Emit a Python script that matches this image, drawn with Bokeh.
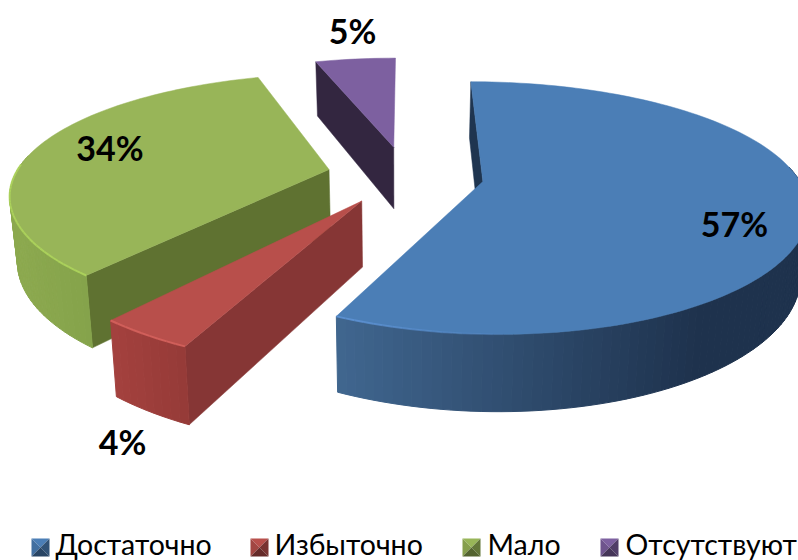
import math
from bokeh.plotting import figure
from bokeh.models import Range1d
from bokeh.core.properties import value
from bokeh.embed import file_html
from bokeh.resources import INLINE

categories = ["Достаточно", "Избыточно", "Мало", "Отсутствуют"]
values = [57, 4, 34, 5]
labels = ["57%", "4%", "34%", "5%"]

top_col = ["#4b7eb6", "#b84f4b", "#98b558", "#7d60a0"]
radial_col = ["#1f3550", "#863635", "#5f7231", "#332640"]
rim_a = ["#40668f", "#a4413e", "#8ca94f", "#5c4a78"]
rim_b = ["#1e324d", "#943a37", "#84a24a", "#5c4a78"]
rim_x = [(337, 700), (110, 190), (18, 93), (316, 394)]
shine = ["#5f95d8", "#d8645f", "#b0d85c", "#9d7cc8"]
label_xy = [(734, 223), (122, 440.5), (109.5, 146.5), (352, 29.5)]
legend_x = [31, 250, 462, 600]
legend_text_x = [55, 274, 487, 625]

CX, CY, A, B, KX, KY, EXPLODE = 405, 174.5, 314, 118, 0.182, 0.2076, 0.25


def proj(u, v):
    return CX + A * u / (1 + KX * v), CY - B * v / (1 + KY * v)


def low(x, y):
    return x + 0.02 * (400 - x), y + 49 + 0.085 * y


def hexmix(a, b, t):
    t = max(0, min(1, t))
    ca = [int(a[i:i + 2], 16) for i in (1, 3, 5)]
    cb = [int(b[i:i + 2], 16) for i in (1, 3, 5)]
    return "#%02x%02x%02x" % tuple(round(p + (q - p) * t) for p, q in zip(ca, cb))


p = figure(width=798, height=560, output_backend="svg", toolbar_location=None,
           x_range=Range1d(0, 798), y_range=Range1d(560, 0),
           min_border=0, outline_line_color=None, border_fill_color="white")
p.axis.visible = False
p.grid.visible = False

starts = []
acc = 0.0
for val in values:
    starts.append(acc)
    acc += val * 3.6

for i in [3, 2, 1, 0]:
    th0 = math.radians(starts[i])
    th1 = math.radians(starts[i] + values[i] * 3.6)
    mid = (th0 + th1) / 2
    ou, ov = EXPLODE * math.sin(mid), EXPLODE * math.cos(mid)
    n = max(4, int(values[i] * 3.6 / 1.5))
    ths = [th0 + (th1 - th0) * j / n for j in range(n + 1)]
    rim = [proj(ou + math.sin(t), ov + math.cos(t)) for t in ths]
    apex = proj(ou, ov)
    q = [apex, rim[0], low(*rim[0]), low(*apex)]
    p.patch([a[0] for a in q], [a[1] for a in q], fill_color=radial_col[i],
            line_color=radial_col[i], line_width=0.5)
    for j in range(n):
        if math.cos((ths[j] + ths[j + 1]) / 2) > 0.12:
            continue
        a, b = rim[j], rim[j + 1]
        q = [a, b, low(*b), low(*a)]
        t = (((a[0] + b[0]) / 2) - rim_x[i][0]) / (rim_x[i][1] - rim_x[i][0])
        c = hexmix(rim_a[i], rim_b[i], t)
        p.patch([e[0] for e in q], [e[1] for e in q], fill_color=c, line_color=c, line_width=1)
    q = [apex] + rim
    p.patch([e[0] for e in q], [e[1] for e in q], fill_color=top_col[i],
            line_color=top_col[i], line_width=0.5)
    xs, ys, al = [], [], []
    for j in range(n):
        mt = (ths[j] + ths[j + 1]) / 2
        if math.cos(mt) > 0.05:
            continue
        a, b = rim[j], rim[j + 1]
        t = (((a[0] + b[0]) / 2) - rim_x[i][0]) / (rim_x[i][1] - rim_x[i][0])
        xs.append([a[0], b[0]])
        ys.append([a[1], b[1]])
        al.append(max(0.0, 0.85 - 1.6 * t) if i == 0 else 0.8)
    if xs:
        p.multi_line(xs, ys, line_color=shine[i], line_width=2, line_alpha=al)

for (x, y), lab in zip(label_xy, labels):
    p.text([x], [y], text=[lab], text_font=value("Lato"), text_font_style="bold",
           text_font_size="34px", text_color="#000000", text_align="center",
           text_baseline="middle")

SW = 18
for i, name in enumerate(categories):
    x0, y0 = legend_x[i], 538
    x1, y1 = x0 + SW, y0 + SW
    xc, yc = (x0 + x1) / 2, (y0 + y1) / 2
    p.patch([x0, x1, xc], [y0, y0, yc], fill_color=top_col[i], line_color=None)
    p.patch([x0, xc, x0], [y0, yc, y1], fill_color=hexmix(top_col[i], "#000000", 0.12), line_color=None)
    p.patch([x1, xc, x1], [y0, yc, y1], fill_color=hexmix(top_col[i], "#000000", 0.35), line_color=None)
    p.patch([x0, x1, xc], [y1, y1, yc], fill_color=hexmix(top_col[i], "#000000", 0.45), line_color=None)
    p.text([legend_text_x[i]], [543], text=[name], text_font=value("Lato"),
           text_font_size="28.5px", text_color="#000000", text_align="left",
           text_baseline="middle")

open("out.html", "w").write(file_html(p, INLINE))
